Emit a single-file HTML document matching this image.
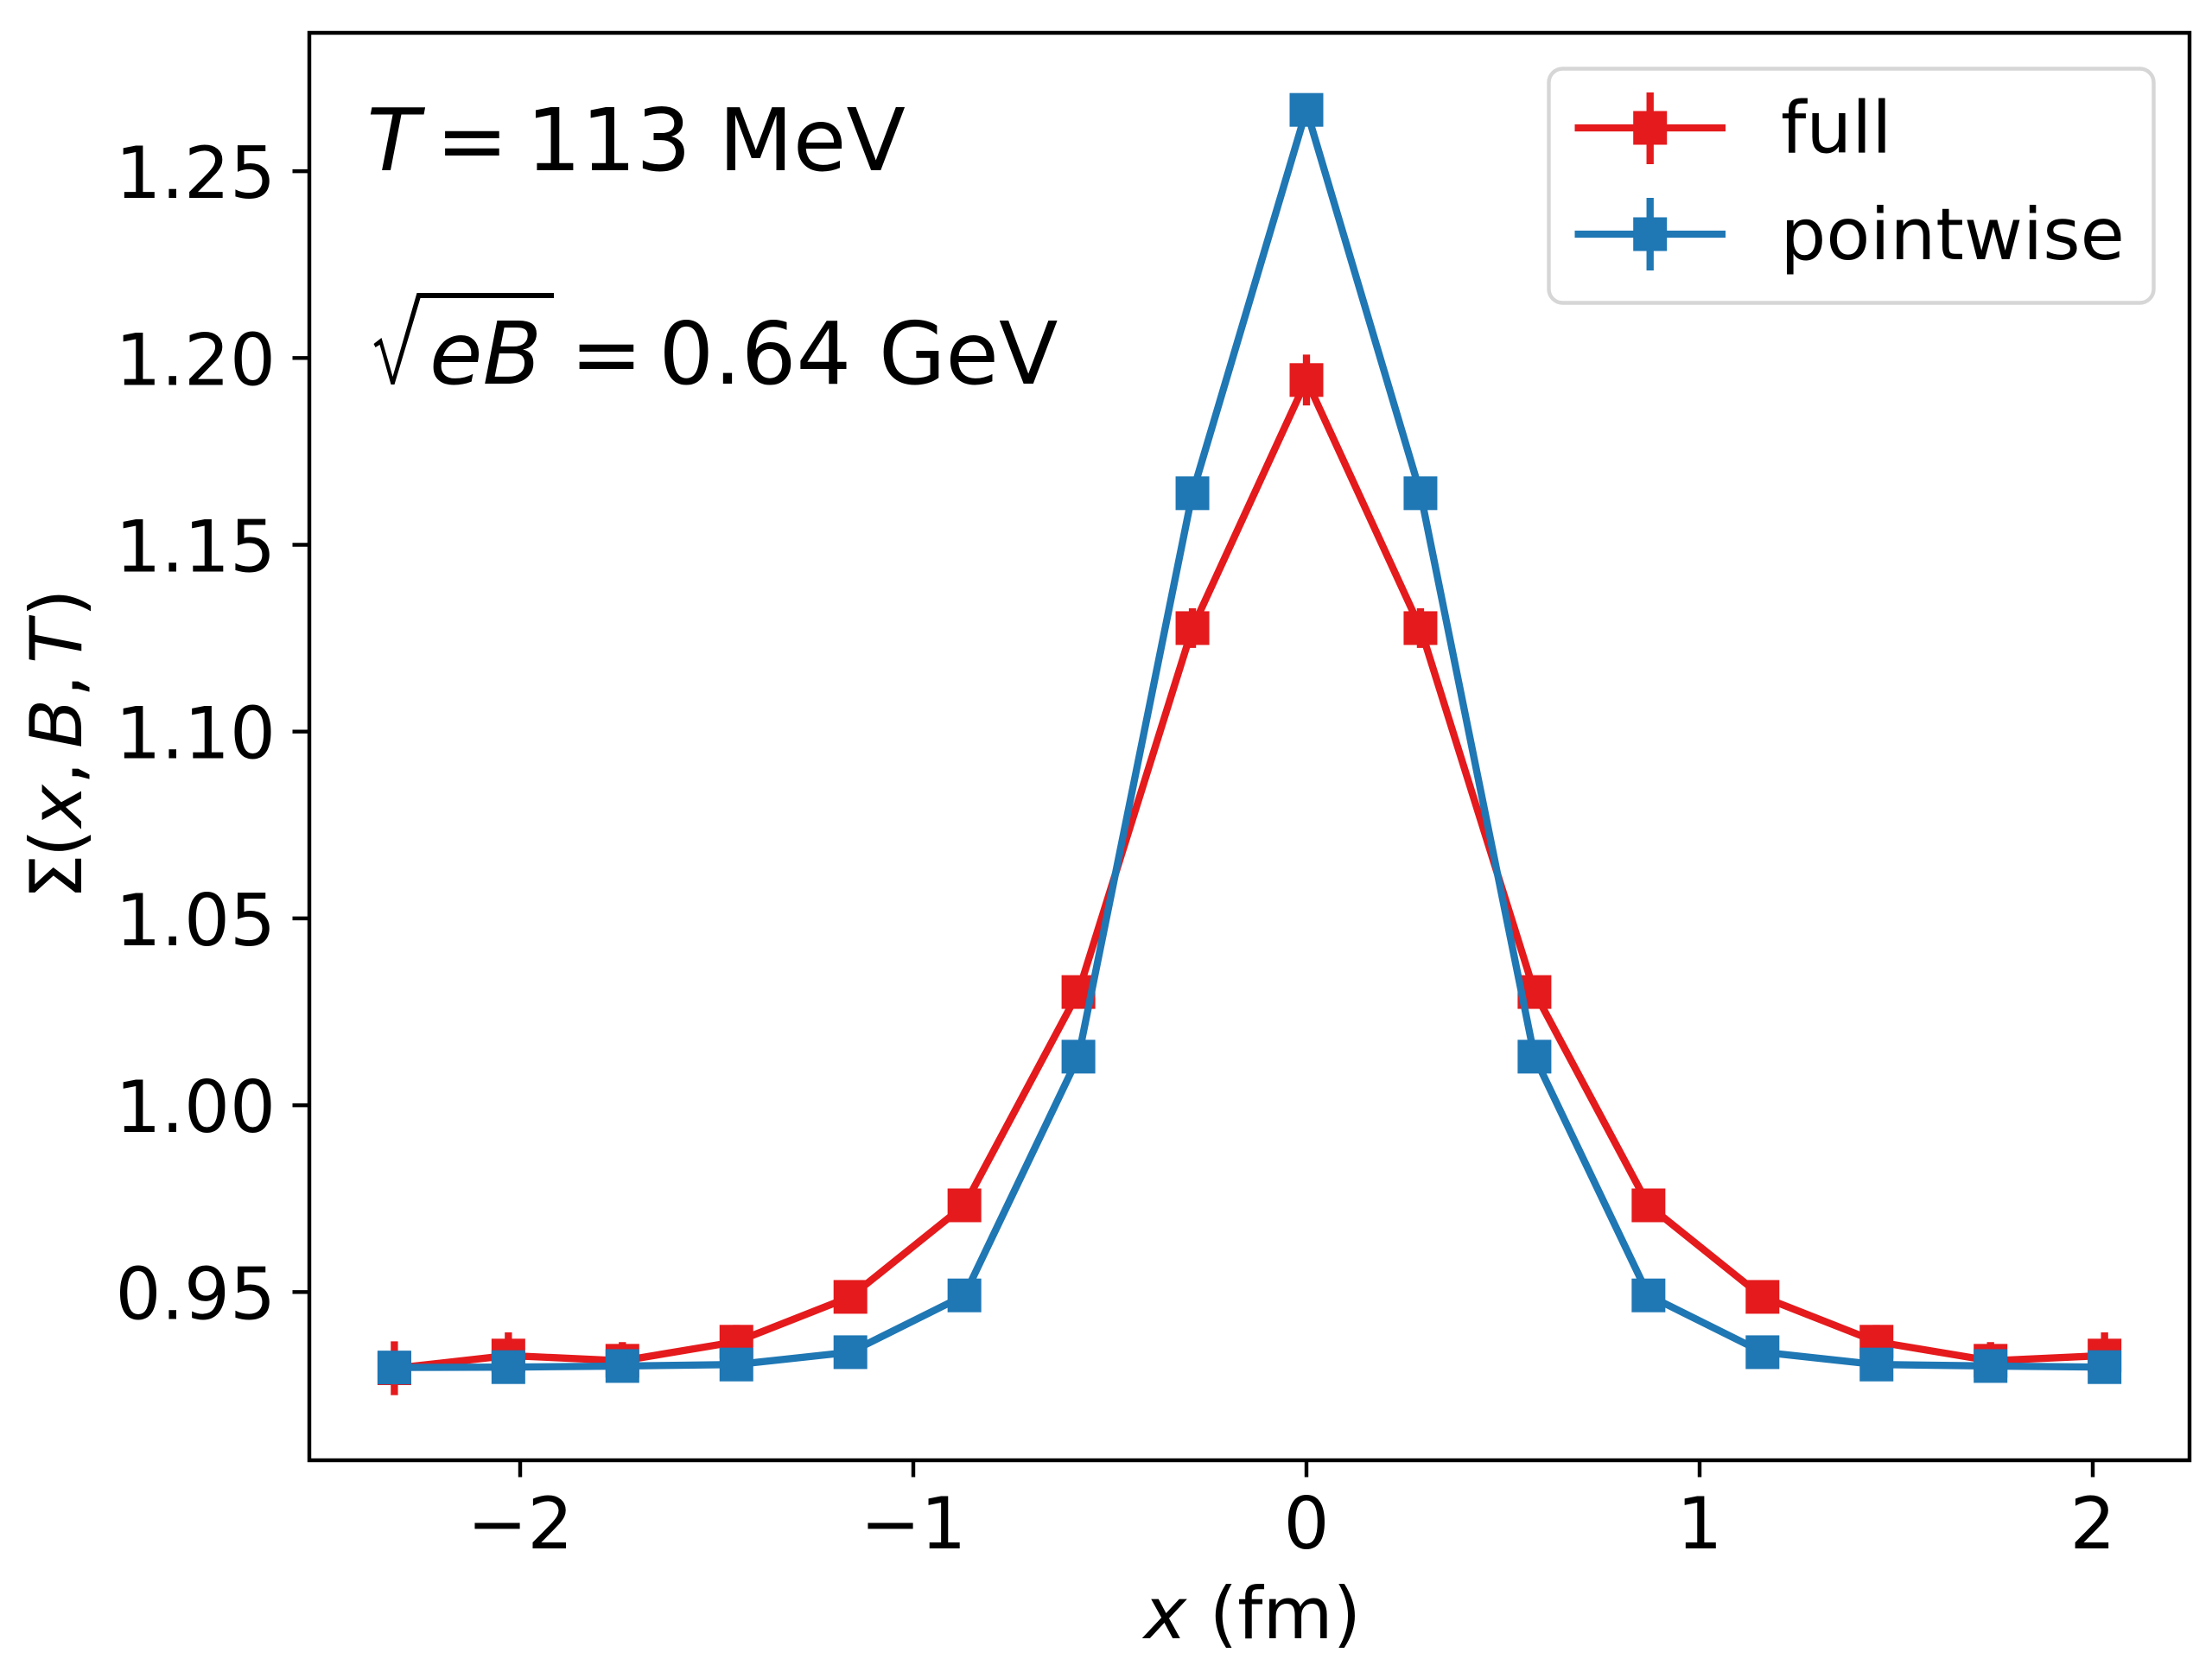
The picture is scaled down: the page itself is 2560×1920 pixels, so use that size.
<!DOCTYPE html>
<html lang="en">
<head>
<meta charset="utf-8">
<title>Sigma(x, B, T) chart</title>
<style>
html,body{margin:0;padding:0;background:#fff;width:2560px;height:1920px;overflow:hidden}
svg{display:block}
text{font-family:"DejaVu Sans","Liberation Sans",sans-serif;fill:#000;white-space:pre}
.it{font-style:italic}
.tick{font-size:83.3px}
.ann{font-size:100px}
</style>
</head>
<body>
<svg id="chart" xmlns="http://www.w3.org/2000/svg" width="2560" height="1920" viewBox="0 0 2560 1920">
  <rect x="0" y="0" width="2560" height="1920" fill="#fff"/>
  <g id="x-ticks"></g>
  <g id="y-ticks"></g>
  <g id="series"></g>
  <rect x="358" y="38" width="2176" height="1652" fill="none" stroke="#000" stroke-width="4.44"/>

  <text class="tick" x="1449.5" y="1896" text-anchor="middle"><tspan class="it">x</tspan> (fm)</text>
  <text class="tick" transform="translate(94,1033) rotate(-90)"><tspan x="-8">Σ</tspan><tspan x="41">(</tspan><tspan x="75.5" class="it">x</tspan><tspan x="125">,</tspan><tspan x="167" class="it">B</tspan><tspan x="226">,</tspan><tspan x="265" class="it">T</tspan><tspan x="319">)</tspan></text>

  <text class="ann" y="197"><tspan x="424.5" class="it">T</tspan><tspan x="504.5">=</tspan><tspan x="609">113 MeV</tspan></text>
  <path transform="translate(1.5,0)" d="M431 398 L440 391 L453 436 L481 339 L639.5 339 L639.5 345 L485 345 L455 445 L451 445 L438 399 L433 402 Z" fill="#000"/>
  <text class="ann" y="444"><tspan x="497" class="it">eB</tspan><tspan x="660">=</tspan><tspan x="762.5">0.64 GeV</tspan></text>

  <g>
    <rect x="1792.5" y="79.5" width="700" height="271" rx="16" ry="16" fill="#fff" fill-opacity="0.8" stroke="#d6d6d6" stroke-width="4.44"/>
    <g>
      <line x1="1822.5" y1="148" x2="1997" y2="148" stroke="#e41a1c" stroke-width="8.33"/>
      <line x1="1909.7" y1="107" x2="1909.7" y2="190" stroke="#e41a1c" stroke-width="8.33"/>
      <rect x="1890.2" y="128.5" width="39" height="39" fill="#e41a1c"/>
      <text class="tick" x="2061" y="176.7">full</text>
    </g>
    <g>
      <line x1="1822.5" y1="271" x2="1997" y2="271" stroke="#1f77b4" stroke-width="8.33"/>
      <line x1="1909.7" y1="229" x2="1909.7" y2="313" stroke="#1f77b4" stroke-width="8.33"/>
      <rect x="1890.2" y="251.5" width="39" height="39" fill="#1f77b4"/>
      <text class="tick" x="2060.5" y="300">pointwise</text>
    </g>
  </g>
</svg>
<script>
const xValues = [-2.32,-2.03,-1.74,-1.45,-1.16,-0.87,-0.58,-0.29,0,0.29,0.58,0.87,1.16,1.45,1.74,2.03];
const fullValues = [0.9296,0.9330,0.9316,0.9367,0.9487,0.9732,1.0303,1.1277,1.1941,1.1277,1.0303,0.9732,0.9487,0.9367,0.9316,0.9330];
const fullErrors = [0.0072,0.0062,0.0050,0.0045,0.0040,0.0040,0.0040,0.0053,0.0068,0.0053,0.0040,0.0040,0.0040,0.0045,0.0050,0.0062];
const pointwiseValues = [0.9298,0.9299,0.9302,0.9306,0.9339,0.9491,1.0130,1.1638,1.2664,1.1638,1.0130,0.9491,0.9339,0.9306,0.9302,0.9299];
const pointwiseErrors = [0.0010,0.0010,0.0010,0.0010,0.0010,0.0010,0.0010,0.0010,0.0020,0.0010,0.0010,0.0010,0.0010,0.0010,0.0010,0.0010];
const xTickValues = [-2,-1,0,1,2];
const xTickLabels = ["\u22122","\u22121","0","1","2"];
const yTickValues = [0.95,1.00,1.05,1.10,1.15,1.20,1.25];
const yTickLabels = ["0.95","1.00","1.05","1.10","1.15","1.20","1.25"];

const NS = "http://www.w3.org/2000/svg";
function xScale(v){ return 1512 + 455 * v; }
function yScale(v){ return 846.7 - (v - 1.10) * 4324; }
function make(tag, attrs, parent){
  const el = document.createElementNS(NS, tag);
  for (const k in attrs) el.setAttribute(k, attrs[k]);
  parent.appendChild(el);
  return el;
}
const xTickGroup = document.getElementById("x-ticks");
xTickValues.forEach(function(v, i){
  const px = xScale(v);
  const t = make("line", {x1:px, y1:1690, x2:px, y2:1709.5, stroke:"#000", "stroke-width":4.44}, xTickGroup);
  
  
  const l = make("text", {x:px, y:1792, "text-anchor":"middle", class:"tick"}, xTickGroup);
  
  
  l.textContent = xTickLabels[i];
});
const yTickGroup = document.getElementById("y-ticks");
yTickValues.forEach(function(v, i){
  const py = yScale(v);
  const t = make("line", {x1:338.5, y1:py, x2:358, y2:py, stroke:"#000", "stroke-width":4.44}, yTickGroup);
  
  
  const l = make("text", {x:319, y:py + 31, "text-anchor":"end", class:"tick"}, yTickGroup);
  
  
  l.textContent = yTickLabels[i];
});
function drawSeries(values, errors, color, key){
  const parent = document.getElementById("series");
  const g = make("g", {}, parent);
  
  
  const pts = values.map(function(v, i){ return xScale(xValues[i]).toFixed(2) + "," + yScale(v).toFixed(2); }).join(" ");
  const line = make("polyline", {points:pts, fill:"none", stroke:color, "stroke-width":8.33, "stroke-linejoin":"round"}, g);
  
  
  values.forEach(function(v, i){
    const px = xScale(xValues[i]);
    const py = yScale(v);
    const e = make("line", {x1:px, x2:px, y1:yScale(v + errors[i]), y2:yScale(v - errors[i]), stroke:color, "stroke-width":8.33}, g);
    
    
    const m = make("rect", {x:px - 19.5, y:py - 19.5, width:39, height:39, fill:color}, g);
    
    
  });
}
drawSeries(fullValues, fullErrors, "#e41a1c", "full");
drawSeries(pointwiseValues, pointwiseErrors, "#1f77b4", "pointwise");
</script>
</body>
</html>
